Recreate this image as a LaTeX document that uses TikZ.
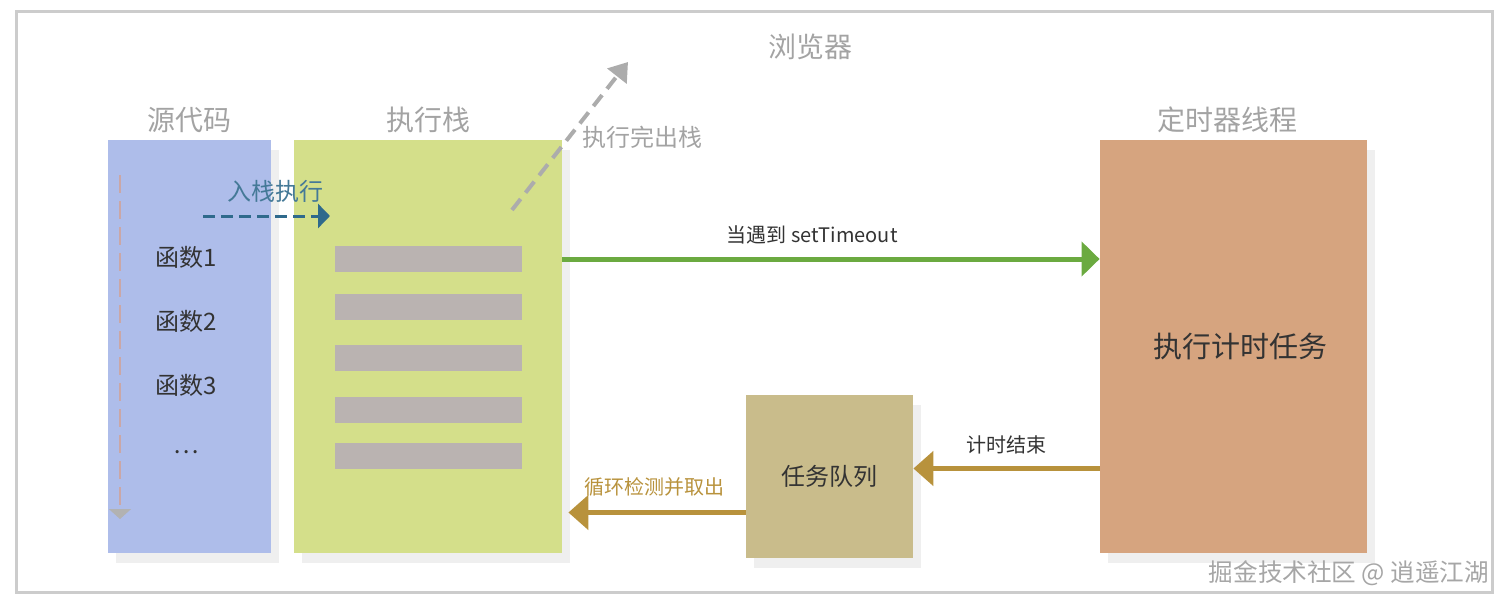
\documentclass[tikz,border=0pt]{standalone}
\usepackage{fontspec}
\setmainfont{Noto Sans CJK SC}
\usepackage{xcolor}
\usetikzlibrary{arrows.meta, positioning, shadows}

\definecolor{srcblue}{HTML}{AEBDEA}
\definecolor{stackgreen}{HTML}{D4DF8A}
\definecolor{bargrey}{HTML}{BAB3B1}
\definecolor{timerorange}{HTML}{D6A47F}
\definecolor{queuetan}{HTML}{C9BC8B}
\definecolor{greenline}{HTML}{6BAA40}
\definecolor{goldline}{HTML}{B8923C}
\definecolor{pushblue}{HTML}{2F6A8C}
\definecolor{headgrey}{HTML}{A3A3A3}
\definecolor{textdark}{HTML}{333333}

\begin{document}
\begin{tikzpicture}[
    x=0.5pt, y=-0.5pt,
    block/.style={rectangle, inner sep=0pt, minimum height=206.5pt,
                  drop shadow={shadow xshift=4pt, shadow yshift=-5pt, opacity=0.13}},
    srcbox/.style={block, fill=srcblue, minimum width=81.5pt},
    stackbox/.style={block, fill=stackgreen, minimum width=134pt},
    timerbox/.style={block, fill=timerorange, minimum width=133.5pt},
    queuebox/.style={block, fill=queuetan, minimum width=83.5pt, minimum height=81.5pt,
                     font=\fontsize{12}{14}\selectfont, text=textdark},
    bar/.style={rectangle, fill=bargrey, inner sep=0pt, minimum width=93.5pt, minimum height=13pt},
    head/.style={font=\fontsize{14}{16}\selectfont, text=headgrey},
    func/.style={font=\fontsize{12}{14}\selectfont, text=textdark},
    tasktext/.style={font=\fontsize{14.5}{16}\selectfont, text=textdark},
    lbl/.style={font=\fontsize{10}{12}\selectfont, text=textdark, inner sep=1pt},
    callarr/.style={-{Triangle[length=9pt, width=17pt]}, line width=2.5pt, greenline},
    backarr/.style={-{Triangle[length=10pt, width=17pt]}, line width=2.5pt, goldline},
    pusharr/.style={-{Triangle[length=6pt, width=12pt]}, line width=1.5pt, pushblue,
                    dash pattern=on 6pt off 3pt},
    poparr/.style={-{Triangle[length=9pt, width=12pt]}, line width=2pt, headgrey!90,
                   dash pattern=on 7pt off 4pt},
]

% Frame
\draw[line width=1.5pt, gray!40] (16,11) rectangle (1492,592);
\useasboundingbox (0,0) rectangle (1512,605);

% Title
\node[head] (browser) at (810,47) {浏览器};

% Blocks
\node[srcbox] (src) at (189.5,346.5) {};
\node[stackbox] (stack) at (428,346.5) {};
\node[timerbox] (timer) at (1233.5,346.5) {};
\node[queuebox] (queue) at (829.5,476.5) {任务队列};
\node[tasktext] (timertask) at (1240,347) {执行计时任务};

% Headings
\node[head] (srchead) at ([yshift=10pt]src.north) {源代码};
\node[head] (stackhead) at ([yshift=10pt]stack.north) {执行栈};
\node[head] (timerhead) at ([xshift=-3pt, yshift=10pt]timer.north) {定时器线程};

% Source code
\coordinate (flowtop) at (120,175);
\coordinate (flowend) at (120,519);
\draw[line width=0.8pt, red!25!gray!55, dash pattern=on 9pt off 4pt,
      -{Triangle[length=5pt, width=11pt, gray!60]}] (flowtop) -- (flowend);
\node[func] (f1) at (186,257) {函数1};
\node[func] (f2) at (186,321) {函数2};
\node[func] (f3) at (186,385) {函数3};
\node[func] (fdots) at (186,452) {\dots};

% Stack frames
\foreach \i/\y in {1/259, 2/307, 3/358, 4/410, 5/456}
    \node[bar] (bar\i) at (428.5,\y) {};

% Push and pop
\coordinate (pushfrom) at (203,216);
\coordinate (pushto) at (330,216);
\draw[pusharr] (pushfrom) -- (pushto);
\node[func, text=pushblue!90] (pushlbl) at (275,191) {入栈执行};
\coordinate (popfrom) at (512,210);
\coordinate (popto) at (628,62);
\draw[poparr] (popfrom) -- (popto);
\node[func, text=headgrey] (poplbl) at (642,137) {执行完出栈};

% Arrows
\draw[callarr] (stack.east |- bar1) -- (timer.west |- bar1)
    node[lbl, pos=0.465, above=5pt] {当遇到 setTimeout};
\coordinate (doneout) at ([yshift=4pt]queue.east);
\draw[backarr] (timer.west |- doneout) -- (doneout)
    node[lbl, midway, above=5pt] {计时结束};
\coordinate (pickup) at ([yshift=-18pt]queue.west);
\draw[backarr, shorten >=3pt] (pickup) -- (stack.east |- pickup)
    node[lbl, text=goldline, midway, above=6pt] {循环检测并取出};

% Watermark
\node[font=\fontsize{12.3}{14}\selectfont, text=gray!70] (mark) at (1349,573) {掘金技术社区 @ 逍遥江湖};

\end{tikzpicture}
\end{document}
